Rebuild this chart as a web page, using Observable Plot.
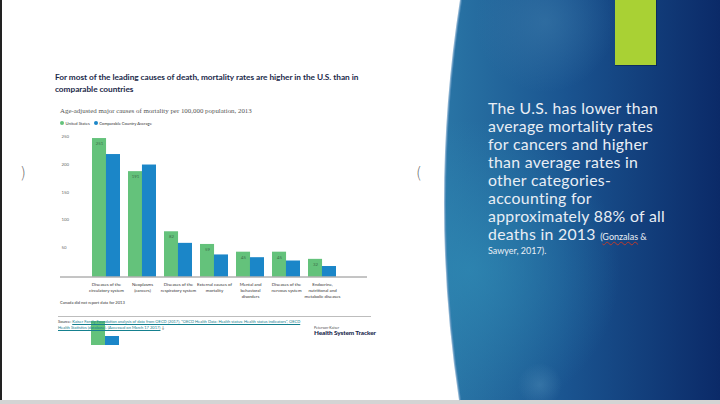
<!DOCTYPE html>
<html>
<head>
<meta charset="utf-8">
<script src="https://cdn.jsdelivr.net/npm/d3@7"></script>
<script src="https://cdn.jsdelivr.net/npm/@observablehq/plot@0.6"></script>
<style>
  html, body { margin: 0; padding: 0; }
  body { width: 720px; height: 404px; overflow: hidden; background: #fff; position: relative; font-family: Lato, "Open Sans", sans-serif; }
  .abs { position: absolute; }
  #title { left: 55px; top: 71px; font-weight: 700; font-size: 8.3px; line-height: 12.3px; color: #1c2a4a; letter-spacing: -0.05px; white-space: nowrap; }
  #subtitle { left: 60px; top: 106.5px; font-family: "Liberation Serif", "DejaVu Serif", serif; font-size: 6.9px; color: #555; white-space: nowrap; }
  #legend { left: 60px; top: 120.5px; font-size: 4.1px; color: #333; white-space: nowrap; display: flex; align-items: center; }
  #legend .dot { display: inline-block; width: 4px; height: 4px; border-radius: 50%; margin: 0 1.5px 0 0; }
  #legend .item { display: inline-flex; align-items: center; margin-right: 4px; }
  #note { left: 60px; top: 299.5px; font-size: 4.1px; color: #333; white-space: nowrap; }
  #divider { left: 58px; top: 315.5px; width: 313px; height: 1.5px; background: #bdbdbd; }
  #source { left: 58px; top: 319px; font-size: 4.05px; line-height: 6px; color: #333; white-space: nowrap; }
  #source a { color: #15808f; text-decoration: underline; }
  #brand1 { left: 314px; top: 324.5px; font-size: 3.6px; color: #555; white-space: nowrap; }
  #brand2 { left: 314px; top: 329px; font-size: 6.4px; font-weight: 900; color: #1b2a4e; white-space: nowrap; letter-spacing: -0.1px; }
  #side { left: 488px; top: 99px; font-size: 15.8px; letter-spacing: 0.3px; line-height: 18px; color: #e9eef5; white-space: nowrap; font-family: Lato, sans-serif; }
  #side .cite { font-size: 9px; letter-spacing: 0; }
  #side .cite2 { font-size: 9px; letter-spacing: 0; line-height: 12px; display: block; margin-top: -1px; }
  #side u { text-decoration: underline wavy #c0392b; text-decoration-thickness: 0.8px; }
  .paren { font-size: 15px; color: #666; font-family: "DejaVu Sans", sans-serif; font-weight: 200; }
</style>
</head>
<body>
<svg class="abs" style="left:0;top:0" width="720" height="404">
  <defs>
    <linearGradient id="gh" x1="440" y1="0" x2="720" y2="0" gradientUnits="userSpaceOnUse">
      <stop offset="0" stop-color="#2a76a6"/>
      <stop offset="0.45" stop-color="#1a5490"/>
      <stop offset="1" stop-color="#0b2a68"/>
    </linearGradient>
    <radialGradient id="rg1" cx="470" cy="270" r="150" gradientUnits="userSpaceOnUse">
      <stop offset="0" stop-color="#2f8ab4" stop-opacity="0.75"/>
      <stop offset="1" stop-color="#2f8ab4" stop-opacity="0"/>
    </radialGradient>
    <radialGradient id="rg2" cx="545" cy="22" r="70" gradientUnits="userSpaceOnUse">
      <stop offset="0" stop-color="#3a78a8" stop-opacity="0.6"/>
      <stop offset="1" stop-color="#3a78a8" stop-opacity="0"/>
    </radialGradient>
    <radialGradient id="rg3" cx="540" cy="385" r="22" gradientUnits="userSpaceOnUse">
      <stop offset="0" stop-color="#4a88b5" stop-opacity="0.5"/>
      <stop offset="1" stop-color="#4a88b5" stop-opacity="0"/>
    </radialGradient>
  </defs>
  <rect x="0" y="0" width="2" height="404" fill="#222"/>
  <rect x="0" y="400" width="720" height="4" fill="#d4d4d4"/>
  <path d="M461,0 Q429.5,200 460,400 L720,400 L720,0 Z" fill="url(#gh)"/>
  <path d="M461,0 Q429.5,200 460,400 L720,400 L720,0 Z" fill="url(#rg1)"/>
  <path d="M461,0 Q429.5,200 460,400 L720,400 L720,0 Z" fill="url(#rg2)"/>
  <path d="M461,0 Q429.5,200 460,400 L720,400 L720,0 Z" fill="url(#rg3)"/>
  <path d="M461,0 Q429.5,200 460,400" fill="none" stroke="#5a92bd" stroke-width="2" opacity="0.7"/>
  <rect x="615" y="0" width="41" height="65" fill="#a9d134"/>
  <rect x="656" y="0" width="1" height="66" fill="#08204d" opacity="0.6"/>
  <rect x="615" y="65" width="42" height="1" fill="#08204d" opacity="0.6"/>
</svg>

<div id="title" class="abs">For most of the leading causes of death, mortality rates are higher in the U.S. than in<br>comparable countries</div>
<div id="subtitle" class="abs">Age-adjusted major causes of mortality per 100,000 population, 2013</div>
<div id="legend" class="abs"></div>
<div id="chart" class="abs" style="left:40px;top:125px"></div>
<div id="note" class="abs">Canada did not report data for 2013</div>
<div id="divider" class="abs"></div>
<div class="abs" style="left:91px;top:321px;width:14px;height:24px;background:#64c27b"></div>
<div class="abs" style="left:105px;top:336px;width:14px;height:9px;background:#1b86c8"></div>
<div id="source" class="abs">Source: <a>Kaiser Family Foundation analysis of data from OECD (2017), "OECD Health Data: Health status: Health status indicators", OECD</a><br><a>Health Statistics (database). (Accessed on March 17 2017)</a> &#8595;</div>
<div id="brand1" class="abs">Peterson-Kaiser</div>
<div id="brand2" class="abs">Health System Tracker</div>
<div class="abs paren" style="left:20px;top:164px">)</div>
<div class="abs paren" style="left:416px;top:164px">(</div>
<div id="side" class="abs">The U.S. has lower than<br>average mortality rates<br>for cancers and higher<br>than average rates in<br>other categories-<br>accounting for<br>approximately 88% of all<br>deaths in 2013 <span class="cite">(<u>Gonzalas</u> &amp;</span><span class="cite2">Sawyer, 2017).</span></div>

<script>
const causes = [
  "Diseases of the circulatory system",
  "Neoplasms (cancers)",
  "Diseases of the respiratory system",
  "External causes of mortality",
  "Mental and behavioral disorders",
  "Diseases of the nervous system",
  "Endocrine, nutritional and metabolic diseases"
];
const causeLabels = [
  "Diseases of the\ncirculatory system",
  "Neoplasms\n(cancers)",
  "Diseases of the\nrespiratory system",
  "External causes of\nmortality",
  "Mental and\nbehavioral\ndisorders",
  "Diseases of the\nnervous system",
  "Endocrine,\nnutritional and\nmetabolic diseases"
];
const usValues = [251, 191, 82, 59, 45, 45, 32];
const compValues = [222, 203, 61, 40, 35, 29, 19];
const seriesNames = ["United States", "Comparable Country Average"];
const seriesColors = ["#64c27b", "#1b86c8"];
const yTicks = [50, 100, 150, 200, 250];

const rows = causes.map((c, i) => ({cause: c, label: causeLabels[i], us: usValues[i], comp: compValues[i]}));

// legend
const leg = document.getElementById("legend");
seriesNames.forEach((n, i) => {
  const it = document.createElement("span");
  it.className = "item";
  it.innerHTML = `<span class="dot" style="background:${seriesColors[i]}"></span>${n}`;
  leg.appendChild(it);
});

const halfBand = 13.95;
const chart = Plot.plot({
  width: 340,
  height: 175,
  marginLeft: 20,
  marginRight: 13,
  marginTop: 13.6,
  marginBottom: 23.5,
  style: {fontFamily: "Lato, sans-serif", background: "transparent", overflow: "visible"},
  x: {domain: causes, paddingInner: 0.23, paddingOuter: 0.85, axis: null},
  y: {domain: [0, 250], axis: null},
  marks: [
    Plot.barY(rows, {x: "cause", y: "us", fill: seriesColors[0], insetRight: halfBand}),
    Plot.barY(rows, {x: "cause", y: "comp", fill: seriesColors[1], insetLeft: halfBand}),
    Plot.ruleY([0], {stroke: "#8a8a8a", strokeWidth: 1}),
    Plot.text(rows, {x: "cause", y: "us", text: d => d.us, dx: -7, dy: 5, fontSize: 4.3, fill: "#3c6e4a"}),
    Plot.text(yTicks, {y: d => d, text: d => d, frameAnchor: "left", textAnchor: "start", dx: 1, dy: -2, fontSize: 4.3, fill: "#666"}),
    Plot.text(rows, {x: "cause", text: "label", frameAnchor: "bottom", lineAnchor: "top", dy: 4.5, fontSize: 4.4, lineHeight: 1.35, fill: "#333"})
  ]
});
document.getElementById("chart").appendChild(chart);
</script>
</body>
</html>
